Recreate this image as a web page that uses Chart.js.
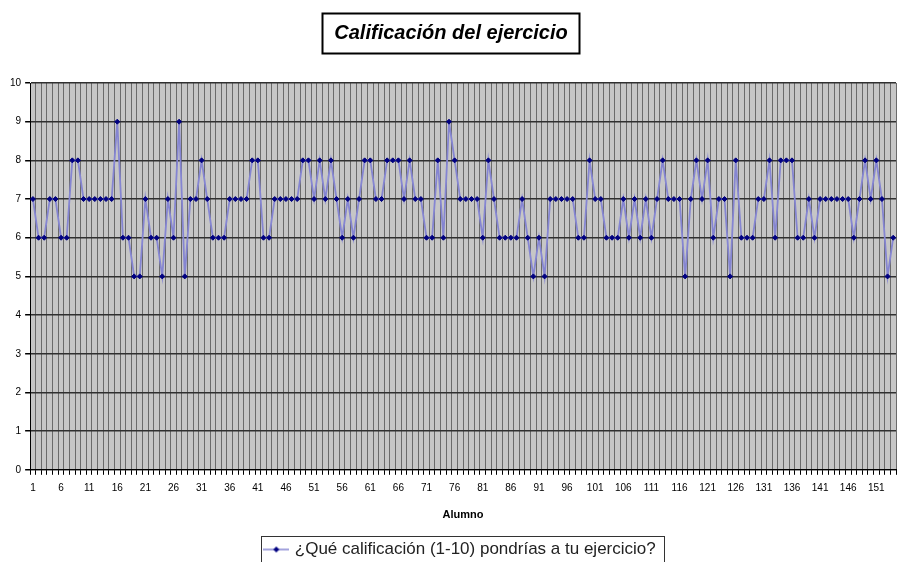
<!DOCTYPE html>
<html>
<head>
<meta charset="utf-8">
<title>Calificación del ejercicio</title>
<script src="https://cdn.jsdelivr.net/npm/chart.js@4.4.1/dist/chart.umd.min.js"></script>
<style>
  html, body { margin: 0; padding: 0; background: #fff; overflow: hidden; }
  #wrap { width: 897px; height: 575px; }
</style>
</head>
<body>
<div id="wrap"><canvas id="lineChart" width="897" height="575"></canvas></div>
<script>
// values, one per student (1..154)
var grades = [
  7, 6, 6, 7, 7, 6, 6, 8, 8, 7, 7, 7, 7, 7, 7, 9, 6, 6, 5, 5, 7, 6, 6, 5, 7, 6, 9,
  5, 7, 7, 8, 7, 6, 6, 6, 7, 7, 7, 7, 8, 8, 6, 6, 7, 7, 7, 7, 7, 8, 8, 7, 8, 7,
  8, 7, 6, 7, 6, 7, 8, 8, 7, 7, 8, 8, 8, 7, 8, 7, 7, 6, 6, 8, 6, 9, 8, 7, 7, 7, 7,
  6, 8, 7, 6, 6, 6, 6, 7, 6, 5, 6, 5, 7, 7, 7, 7, 7, 6, 6, 8, 7, 7, 6, 6, 6, 7,
  6, 7, 6, 7, 6, 7, 8, 7, 7, 7, 5, 7, 8, 7, 8, 6, 7, 7, 5, 8, 6, 6, 6, 7, 7, 8, 6,
  8, 8, 8, 6, 6, 7, 6, 7, 7, 7, 7, 7, 7, 6, 7, 8, 7, 8, 7, 5, 6
];

var students = [];
for (var i = 1; i <= grades.length; i++) students.push(String(i));

// excel only writes every 5th student under the axis
var shownTicks = ['1', '6', '11', '16', '21', '26', '31', '36', '41', '46', '51', '56', '61', '66', '71', '76',
  '81', '86', '91', '96', '101', '106', '111', '116', '121', '126', '131', '136', '141', '146', '151'];

var seriesName = '¿Qué calificación (1-10) pondrías a tu ejercicio?';
var chartTitle = 'Calificación del ejercicio';

var fam = '"Liberation Sans", Arial, sans-serif';
var lineColor = '#8585d2';
var markColor = '#000080';

// small "line + diamond" picture for the legend entry
var legendMark = document.createElement('canvas');
legendMark.width = 26;
legendMark.height = 10;
var lm = legendMark.getContext('2d');
lm.strokeStyle = lineColor;
lm.lineWidth = 1.5;
lm.beginPath(); lm.moveTo(0, 5); lm.lineTo(26, 5); lm.stroke();
lm.fillStyle = markColor;
lm.beginPath(); lm.moveTo(13, 2); lm.lineTo(16, 5); lm.lineTo(13, 8); lm.lineTo(10, 5); lm.closePath(); lm.fill();

// grey plot area like the old excel default
var plotBackground = {
  id: 'plotBackground',
  beforeDraw: function (chart) {
    var a = chart.chartArea, c = chart.ctx;
    c.save();
    c.fillStyle = '#c6c6c6';
    c.fillRect(a.left, a.top, a.right - a.left, a.bottom - a.top);
    c.restore();
  }
};

// frames round the title and the legend
var frames = {
  id: 'frames',
  afterLayout: function (chart) {
    // legend sits a bit right of the page middle
    chart.legend.left += 10;
    chart.legend.right += 10;
  },
  afterDraw: function (chart) {
    var c = chart.ctx;
    c.save();
    var t = chart.titleBlock;
    c.font = 'italic bold 20px ' + fam;
    var tw = c.measureText(chartTitle).width;
    var cx = (t.left + t.right) / 2;
    var cy = t.top + 21 + 12;
    c.strokeStyle = '#000';
    c.lineWidth = 2;
    c.strokeRect(Math.round(cx - tw / 2 - 12) + 0.5, Math.round(cy - 20) + 0.5, Math.round(tw + 24), 40);

    var hb = chart.legend.legendHitBoxes[0];
    if (hb) {
      c.lineWidth = 1;
      c.strokeStyle = '#333';
      c.strokeRect(Math.round(hb.left - 5) + 0.5, Math.round(hb.top - 5) + 0.5, Math.round(hb.width + 14), hb.height + 20);
    }
    c.restore();
  }
};

var ctxL = document.getElementById('lineChart').getContext('2d');
var myLineChart = new Chart(ctxL, {
  type: 'line',
  plugins: [plotBackground, frames],
  data: {
    labels: students,
    datasets: [{
      label: seriesName,
      data: grades,
      borderColor: lineColor,
      borderWidth: 1.8,
      pointStyle: 'rectRot',
      pointRadius: 2.5,
      pointBackgroundColor: markColor,
      pointBorderColor: markColor,
      pointBorderWidth: 1,
      tension: 0,
      fill: false
    }]
  },
  options: {
    responsive: false,
    animation: false,
    layout: { autoPadding: false, padding: { left: 6, right: 1, top: 0, bottom: 7 } },
    plugins: {
      title: {
        display: true,
        text: chartTitle,
        color: '#000',
        font: { family: fam, size: 20, style: 'italic', weight: 'bold' },
        padding: { top: 21, bottom: 38 }
      },
      legend: {
        position: 'bottom',
        labels: {
          usePointStyle: true,
          pointStyle: legendMark,
          pointStyleWidth: 20,
          padding: 10,
          color: '#222',
          font: { family: fam, size: 17 }
        }
      },
      tooltip: { enabled: false }
    },
    scales: {
      x: {
        offset: true,
        afterFit: function (s) {
          // no extra room for the end labels, the plot runs to the edge
          s.paddingLeft = 0;
          s.paddingRight = 0;
        },
        grid: { offset: true, color: '#6a6a6a', tickLength: 5, tickColor: '#000' },
        border: { color: '#000' },
        ticks: {
          autoSkip: false,
          maxRotation: 0,
          minRotation: 0,
          padding: 7,
          color: '#000',
          font: { family: fam, size: 10 },
          callback: function (v, i) {
            return shownTicks.indexOf(students[i]) >= 0 ? students[i] : '';
          }
        },
        title: {
          display: true,
          text: 'Alumno',
          color: '#000',
          font: { family: fam, size: 11, weight: 'bold' },
          padding: { top: 8, bottom: 9 }
        }
      },
      y: {
        min: 0,
        max: 10,
        grid: { color: '#303030', lineWidth: 1.5, tickLength: 5, tickColor: '#000' },
        border: { color: '#000' },
        ticks: { stepSize: 1, padding: 4, color: '#000', font: { family: fam, size: 10 } }
      }
    }
  }
});
</script>
</body>
</html>
